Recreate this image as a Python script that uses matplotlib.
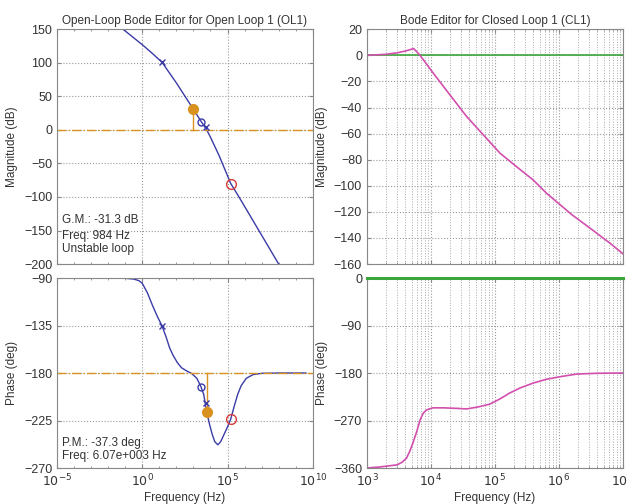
import numpy as np
import matplotlib.pyplot as plt
from matplotlib.ticker import LogLocator, NullFormatter

plt.rcParams['font.family'] = ['Liberation Sans', 'DejaVu Sans']

# --- open loop (log10 freq, value) ---
ol_mag_logf = [-5, -1.13, 0, 0.5, 1.15, 2, 2.99, 3.44, 3.78, 4.0, 4.5, 5.19, 5.6, 6, 7, 8, 9]
ol_mag_db = [227, 150, 127, 116, 101, 70, 31, 13, 0, -11, -38, -80, -97, -114, -157, -200, -240]

ol_ph_logf = [-5, -2, -1, -0.5, -0.2, 0, 0.3, 0.6, 0.9, 1.15, 1.4, 1.6, 1.8, 2.05, 2.3, 2.6, 2.9,
              3.2, 3.44, 3.6, 3.78, 3.95, 4.1, 4.25, 4.43, 4.6, 4.8, 5.0, 5.19, 5.4, 5.6, 5.8,
              6.1, 6.5, 7, 8, 9.6]
ol_ph_deg = [-90, -90, -90.3, -91, -92.5, -95, -104, -116, -127, -135, -146, -156, -163, -170, -175,
             -178, -180.5, -185, -193, -200, -217, -229, -238, -245, -248, -245, -238, -231, -223.5,
             -211, -200, -192, -185, -181.5, -180.3, -180, -180]

# compensator poles / zeros markers
pz_x_logf = [1.15, 3.72]
pz_x_mag = [101, 4]
pz_x_ph = [-135, -208.5]
zero_logf = 3.44
zero_mag = 12
zero_ph = -193
red_logf = 5.19
red_mag = -80
red_ph = -223.5

gm_logf = np.log10(984)
gm_db = 31.3
pm_logf = np.log10(6.07e3)
pm_deg = -217.3

# --- closed loop ---
cl_mag_logf = [3, 3.3, 3.48, 3.6, 3.73, 3.83, 4.04, 4.3, 4.56, 4.82, 5.08, 5.34, 5.6, 5.81,
               6.2, 6.53, 6.8, 7]
cl_mag_db = [0, 0.8, 2, 3.3, 5.2, 0, -13.9, -30.5, -47, -61, -75, -85.4, -95.6, -105.8,
             -122, -134, -144, -152]

cl_ph_logf = [3, 3.2, 3.47, 3.55, 3.62, 3.67, 3.72, 3.78, 3.83, 3.88, 3.93, 4.03, 4.2, 4.4, 4.56,
              4.75, 4.92, 5.08, 5.23, 5.4, 5.6, 5.8, 6.02, 6.28, 6.6, 7]
cl_ph_deg = [-360, -358, -354, -349, -341, -328, -312, -290, -269, -256, -250, -246, -246, -247,
             -248, -244, -239, -229, -218, -208, -199, -192, -187, -182, -180.5, -180]

blue = '#3b3ba8'
orange = '#d9921f'
red = '#d83a3a'
magenta = '#d24fae'
green = '#3aa53a'
txt = '#333333'

fig = plt.figure(figsize=(6.27, 5.04), dpi=100)
ax1 = fig.add_axes([0.0909, 0.476, 0.408, 0.466])
ax2 = fig.add_axes([0.0909, 0.0714, 0.408, 0.377])
ax3 = fig.add_axes([0.5853, 0.476, 0.408, 0.466])
ax4 = fig.add_axes([0.5853, 0.0714, 0.408, 0.377])


def style(ax, minor_grid=False):
    ax.set_xscale('log')
    for s in ax.spines.values():
        s.set_color('#888888')
    ax.tick_params(which='both', direction='in', top=True, right=True, colors='#888888',
                   labelcolor=txt, labelsize=9)
    ax.tick_params(which='major', length=3)
    ax.tick_params(which='minor', length=1.5)
    ax.grid(True, which='major', linestyle=':', color='#9a9a9a', linewidth=0.8)
    if minor_grid:
        ax.grid(True, which='minor', axis='x', linestyle=':', color='#aaaaaa', linewidth=0.7)


# open loop magnitude
style(ax1)
ax1.plot(10.0 ** np.array(ol_mag_logf), ol_mag_db, color=blue, lw=1)
ax1.axhline(0, color=orange, lw=1, ls='-.')
ax1.plot([10 ** gm_logf] * 2, [0, gm_db], color=orange, lw=1)
ax1.plot(10 ** gm_logf, gm_db, 'o', color=orange, ms=7)
ax1.plot(10.0 ** np.array(pz_x_logf), pz_x_mag, 'x', color=blue, ms=4, mew=1)
ax1.plot(10 ** zero_logf, zero_mag, 'o', mfc='none', mec=blue, ms=5, mew=1)
ax1.plot(10 ** red_logf, red_mag, 'o', mfc='none', mec=red, ms=7, mew=1)
ax1.set_xlim(1e-5, 1e10)
ax1.set_ylim(-200, 150)
ax1.set_yticks(np.arange(-200, 151, 50))
ax1.set_xticks([1e-5, 1e0, 1e5, 1e10])
ax1.xaxis.set_minor_locator(LogLocator(base=10, subs=[1.0], numticks=40))
ax1.xaxis.set_major_formatter(NullFormatter())
ax1.xaxis.set_minor_formatter(NullFormatter())
ax1.set_ylabel('Magnitude (dB)', fontsize=8.5, color=txt)
ax1.set_title('Open-Loop Bode Editor for Open Loop 1 (OL1)', fontsize=8.5, color=txt, pad=4)
ax1.text(0.02, 0.187, 'G.M.: -31.3 dB', transform=ax1.transAxes, fontsize=8.5, color=txt, va='center')
ax1.text(0.02, 0.119, 'Freq: 984 Hz', transform=ax1.transAxes, fontsize=8.5, color=txt, va='center')
ax1.text(0.02, 0.064, 'Unstable loop', transform=ax1.transAxes, fontsize=8.5, color=txt, va='center')

# open loop phase
style(ax2)
ax2.plot(10.0 ** np.array(ol_ph_logf), ol_ph_deg, color=blue, lw=1)
ax2.axhline(-180, color=orange, lw=1, ls='-.')
ax2.plot([10 ** pm_logf] * 2, [-180, pm_deg], color=orange, lw=1)
ax2.plot(10 ** pm_logf, pm_deg, 'o', color=orange, ms=7)
ax2.plot(10.0 ** np.array(pz_x_logf), pz_x_ph, 'x', color=blue, ms=4, mew=1)
ax2.plot(10 ** zero_logf, zero_ph, 'o', mfc='none', mec=blue, ms=5, mew=1)
ax2.plot(10 ** red_logf, red_ph, 'o', mfc='none', mec=red, ms=7, mew=1)
ax2.set_xlim(1e-5, 1e10)
ax2.set_ylim(-270, -90)
ax2.set_yticks([-270, -225, -180, -135, -90])
ax2.set_xticks([1e-5, 1e0, 1e5, 1e10])
ax2.set_xticklabels([r'$10^{-5}$', r'$10^{0}$', r'$10^{5}$', r'$10^{10}$'])
ax2.xaxis.set_minor_locator(LogLocator(base=10, subs=[1.0], numticks=40))
ax2.xaxis.set_minor_formatter(NullFormatter())
ax2.set_ylabel('Phase (deg)', fontsize=8.5, color=txt)
ax2.set_xlabel('Frequency (Hz)', fontsize=8.5, color=txt, labelpad=2)
ax2.text(0.02, 0.133, 'P.M.: -37.3 deg', transform=ax2.transAxes, fontsize=8.5, color=txt, va='center')
ax2.text(0.02, 0.063, 'Freq: 6.07e+003 Hz', transform=ax2.transAxes, fontsize=8.5, color=txt, va='center')

# closed loop magnitude
style(ax3, minor_grid=True)
ax3.axhline(0, color=green, lw=1.2)
ax3.plot(10.0 ** np.array(cl_mag_logf), cl_mag_db, color=magenta, lw=1.2)
ax3.set_xlim(1e3, 1e7)
ax3.set_ylim(-160, 20)
ax3.set_yticks(np.arange(-160, 21, 20))
ax3.xaxis.set_major_formatter(NullFormatter())
ax3.xaxis.set_minor_formatter(NullFormatter())
ax3.set_ylabel('Magnitude (dB)', fontsize=8.5, color=txt)
ax3.set_title('Bode Editor for Closed Loop 1 (CL1)', fontsize=8.5, color=txt, pad=4)

# closed loop phase
style(ax4, minor_grid=True)
ax4.axhline(0, color=green, lw=2.2, clip_on=False, zorder=5)
ax4.plot(10.0 ** np.array(cl_ph_logf), cl_ph_deg, color=magenta, lw=1.2)
ax4.set_xlim(1e3, 1e7)
ax4.set_ylim(-360, 0)
ax4.set_yticks([-360, -270, -180, -90, 0])
ax4.set_xticks([1e3, 1e4, 1e5, 1e6, 1e7])
ax4.set_xticklabels([r'$10^{3}$', r'$10^{4}$', r'$10^{5}$', r'$10^{6}$', r'$10^{7}$'])
ax4.xaxis.set_minor_formatter(NullFormatter())
ax4.set_ylabel('Phase (deg)', fontsize=8.5, color=txt)
ax4.set_xlabel('Frequency (Hz)', fontsize=8.5, color=txt, labelpad=2)

fig.savefig('out.png', dpi=100)
